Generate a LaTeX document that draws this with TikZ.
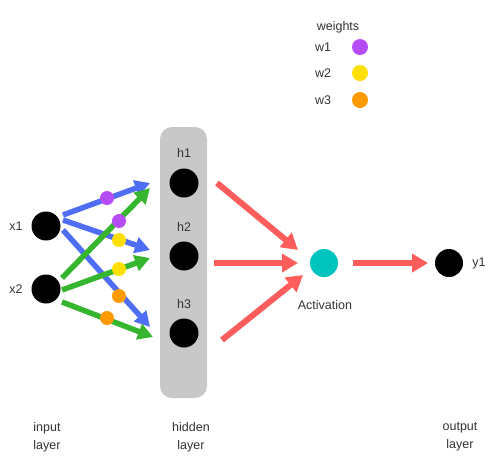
\documentclass[tikz,border=0pt]{standalone}
\usepackage{fontspec}
\setmainfont{Liberation Sans}
\usetikzlibrary{arrows.meta,calc}
\definecolor{cblue}{HTML}{4F6EF5}
\definecolor{cgreen}{HTML}{36B52E}
\definecolor{cred}{HTML}{FF5C5C}
\definecolor{cpurple}{HTML}{B54CF6}
\definecolor{cyellow}{HTML}{FFE000}
\definecolor{corange}{HTML}{FF9A00}
\definecolor{cteal}{HTML}{00C4BE}
\definecolor{cgray}{HTML}{C8C8C8}
\definecolor{ctext}{HTML}{333333}
\tikzset{
  neuron/.style={circle,fill=black,minimum size=29pt,inner sep=0pt},
  wdot/.style={circle,minimum size=14pt,inner sep=0pt},
  lbl/.style={text=ctext,font=\fontsize{12.5}{18}\selectfont,inner sep=0pt,align=center},
  conn/.style={line width=5.5pt,-{Triangle[length=15pt,width=16pt]}},
  rconn/.style={line width=6pt,cred,-{Triangle[length=16pt,width=18pt]}},
}
\begin{document}
\begin{tikzpicture}[x=1pt,y=-1pt]
\useasboundingbox (0,0) rectangle (500,475);
% hidden layer box
\node[fill=cgray,rounded corners=12pt,minimum width=47pt,minimum height=271pt,inner sep=0pt] (box) at (183.5,262.5) {};
% neurons
\node[neuron] (x1) at (46,226) {};
\node[neuron] (x2) at (46,289) {};
\node[neuron] (h1) at (184,183) {};
\node[neuron] (h2) at (184,256) {};
\node[neuron] (h3) at (184,333) {};
\node[circle,fill=cteal,minimum size=28pt,inner sep=0pt] (act) at (324,263) {};
\node[neuron,minimum size=28pt] (y1) at (449,263) {};
% labels
\node[lbl] (lx1) at (16,226) {x1};
\node[lbl] (lx2) at (16,289) {x2};
\node[lbl] (lh1) at (184,153) {h1};
\node[lbl] (lh2) at (184,227) {h2};
\node[lbl] (lh3) at (184,304) {h3};
\node[lbl] (lact) at (325,305) {Activation};
\node[lbl] (ly1) at (479,263) {y1};
\node[lbl] (lin) at (47,437) {input\\layer};
\node[lbl] (lhid) at (191,437) {hidden\\layer};
\node[lbl] (lout) at (460,437) {output\\layer};
% legend
\node[lbl] (lw) at (338,27) {weights};
\node[lbl] (lw1) at (323,47) {w1};
\node[lbl] (lw2) at (323,73) {w2};
\node[lbl] (lw3) at (323,100) {w3};
\node[wdot,fill=cpurple,minimum size=16pt] (dw1) at (360,47) {};
\node[wdot,fill=cyellow,minimum size=16pt] (dw2) at (360,73) {};
\node[wdot,fill=corange,minimum size=16pt] (dw3) at (360,100) {};
% input -> hidden
\draw[conn,cblue] ($(x1)+(17,-11)$) -- ($(h1)+(-34,0)$);
\draw[conn,cblue] ($(x1)+(17,-6)$) -- ($(h2)+(-34,-6)$);
\draw[conn,cblue] ($(x1)+(17,4)$) -- ($(h3)+(-34,-6)$);
\draw[conn,cgreen] ($(x2)+(16,-11)$) -- ($(h1)+(-34,5)$);
\draw[conn,cgreen] ($(x2)+(16,1)$) -- ($(h2)+(-34,2)$);
\draw[conn,cgreen] ($(x2)+(16,13)$) -- ($(h3)+(-31,4)$);
% weight dots
\node[wdot,fill=cpurple] (d1) at (107,198) {};
\node[wdot,fill=cpurple] (d2) at (119,221) {};
\node[wdot,fill=cyellow] (d3) at (119,240) {};
\node[wdot,fill=cyellow] (d4) at (119,269) {};
\node[wdot,fill=corange] (d5) at (119,296) {};
\node[wdot,fill=corange] (d6) at (107,318) {};
% hidden -> activation -> output
\draw[rconn] ($(h1)+(33,0)$) -- ($(act)+(-26,-13)$);
\draw[rconn] ($(h2)+(30,7)$) -- ($(act)+(-26,0)$);
\draw[rconn] ($(h3)+(38,7)$) -- ($(act)+(-21,12)$);
\draw[rconn] ($(act)+(29,0)$) -- ($(y1)+(-21,0)$);
\end{tikzpicture}
\end{document}
